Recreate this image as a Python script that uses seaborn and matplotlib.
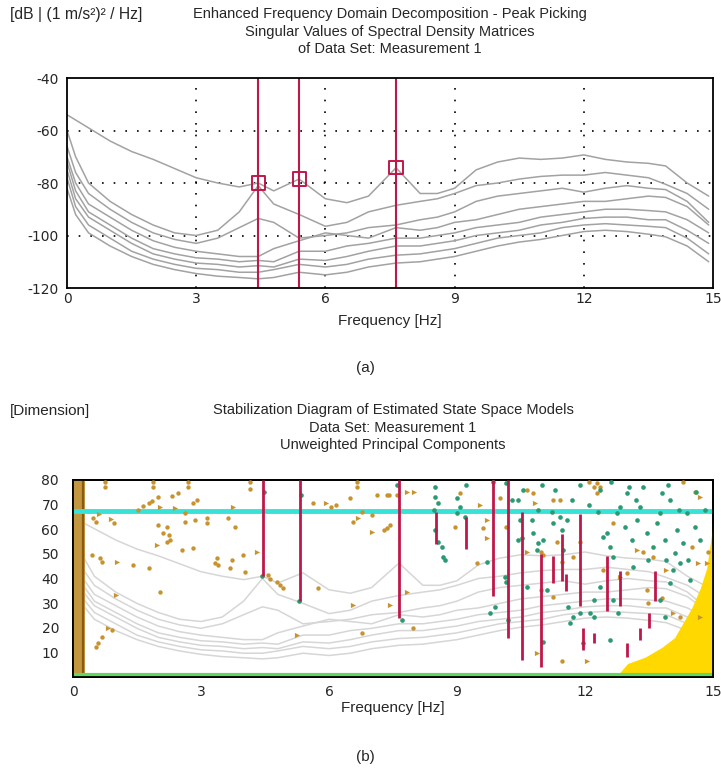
import matplotlib
matplotlib.use("Agg")
import matplotlib.pyplot as plt
import seaborn as sns
import pandas as pd

# ---------------- DATA ----------------

# singular value curves [dB]
freq = [0, 0.2, 0.5, 1, 1.5, 2, 2.5, 3, 3.5, 4, 4.44, 4.8, 5.39, 6, 6.5, 7, 7.64, 8.2,
        8.6, 9, 9.5, 10, 10.5, 11, 11.5, 12, 12.5, 13, 13.5, 13.9, 14.4, 14.9]
sv1 = [-54, -56, -59, -64, -68, -71, -74.5, -78, -80, -81.5, -80, -83, -78.5, -86, -87.5, -85,
       -74.2, -84, -84, -82, -75, -72, -70.5, -71, -70.5, -69.3, -71, -72, -72.5, -73.5, -80, -85]
sv2 = [-60, -70, -80, -87, -92, -96, -99, -100, -98, -91, -81, -88, -92, -96.5, -95, -91,
       -88.5, -87, -86, -84, -81, -80, -78.5, -77.5, -77, -77, -76, -77, -78, -80.5, -84, -90]
sv3 = [-66, -76, -84, -90, -95, -99, -101.5, -103, -101, -97, -93.5, -95, -101, -100, -99, -97,
       -96, -94, -93, -91, -87, -85, -84, -83, -82, -83.5, -82, -81, -82, -82.5, -87, -95]
sv4 = [-70, -80, -88, -93, -98, -102, -104.5, -106, -107, -108, -108, -105, -102, -99, -100, -101,
       -97, -98, -97, -95, -94, -92, -90, -89, -88, -87, -87, -86, -85, -85.5, -89, -96]
sv5 = [-72, -83, -91, -96, -101, -105, -107, -108.5, -109, -110, -109.5, -110, -106, -106, -104, -103,
       -101, -101, -100, -99, -97, -96, -95, -93, -92, -91, -90, -90, -90.5, -91, -94, -99]
sv6 = [-75, -86, -93, -98, -103, -107, -109, -110.5, -111, -112, -111.5, -112, -109, -109.5, -108, -106,
       -104, -104, -103, -102, -100, -99, -98, -96, -95, -93.5, -93, -93, -94, -94, -98, -103]
sv7 = [-78, -89, -96, -101, -106, -109, -111, -112.5, -113, -114, -114, -113, -111, -112, -111, -109,
       -107.5, -107, -106, -105, -103, -101, -100, -99, -97, -96, -95.5, -96, -96.5, -97, -101, -107]
sv8 = [-82, -92, -99, -104, -108, -111, -113, -114.5, -115.5, -116, -116.5, -116, -114, -115, -114, -112,
       -110.5, -110, -109, -108, -106, -104, -102.5, -101.5, -100, -98.5, -98, -98.5, -99.5, -100.5, -104, -110]

# picked peaks
peak_freq = [4.44, 5.39, 7.64]
peak_db = [-80, -78.5, -74.2]

# stabilization diagram: stable pole columns (red)
stab_freq = [4.45, 5.33, 7.63, 8.50, 9.20, 9.85, 10.20, 10.52, 10.98, 11.25, 11.45, 11.55,
             11.88, 11.95, 12.52, 12.82, 12.98, 13.29, 13.50, 13.65, 12.22]
stab_lo = [41, 31, 24, 54, 52, 33, 16, 7, 4, 38, 39, 35, 29, 11, 27, 29, 8, 15, 20, 31, 14]
stab_hi = [80, 80, 80, 67, 65, 80, 80, 67, 50, 49, 58, 42, 66, 20, 49, 43, 14, 20, 26, 43, 18]

# stable in frequency only (green)
green_f = [8.48, 8.48, 8.56, 8.45, 8.48, 8.56, 8.64, 8.68, 8.72, 8.99, 9.07, 8.99, 9.19, 9.7, 9.77,
           9.89, 10.12, 10.16, 10.2, 10.16, 10.28, 10.44, 10.48, 10.52, 10.44, 10.63, 10.75, 10.79,
           10.55, 10.91, 11.02, 10.87, 11.02, 11.1, 11.22, 11.26, 11.42, 11.45, 11.48, 11.57, 11.61,
           11.73, 11.88, 11.96, 12.12, 12.2, 12.31, 12.35, 12.43, 12.51, 12.59, 12.66, 12.35, 12.59,
           12.74, 12.82, 12.94, 12.98, 13.02, 13.09, 13.13, 12.66, 12.78, 13.21, 13.29, 13.37, 13.45,
           13.48, 13.6, 13.68, 13.76, 13.8, 13.88, 13.91, 13.95, 13.99, 14.07, 14.11, 14.15, 14.23,
           14.3, 14.38, 14.46, 14.42, 14.58, 14.7, 14.81, 13.76, 13.88, 12.2, 11.65, 4.42, 5.3,
           4.47, 5.35, 7.6, 7.7, 9.2, 9.85, 11.0, 11.3, 11.88, 12.6, 14.0, 14.2, 14.6, 13.2, 12.1,
           11.7, 10.9]
green_ord = [77.3, 73.2, 70.5, 67.8, 59.7, 55, 52.9, 48.9, 47.5, 72.6, 69.2, 66.5, 65.1, 46.8, 25.9,
             28.6, 40.8, 38.7, 23.2, 78.6, 71.9, 71.9, 63.8, 56.3, 55.6, 36.7, 63.8, 58.3,
             75.9, 54.3, 55.6, 51.6, 14.4, 35.3, 67.1, 62.4, 65.1, 59.7, 51.6, 63.8, 28.6,
             24.5, 25.9, 13.7, 25.9, 24.5, 67.1, 75.9, 57, 58.3, 52.9, 48.9, 36.7, 15,
             66.5, 69.2, 61, 74.6, 77.3, 55.6, 44.8, 31.3, 25.9, 63.8, 69.2, 77.3, 58.3,
             47.5, 52.9, 62.4, 66.5, 74.6, 55.6, 47.5, 78, 38, 43.5, 50.2, 59.7, 46.2,
             54.3, 66.5, 39.4, 47.5, 61, 55.6, 67.8, 31.3, 24.5, 31.3, 21.8, 41, 31,
             75, 74, 78, 23, 78, 79, 78, 76, 78, 79, 72, 68, 75, 72, 70,
             72, 68]

# unstable poles (orange dots)
orange_f = [0.48, 0.55, 0.95, 1.53, 1.63, 1.77, 1.84, 2.0, 2.31, 2.47, 2.62, 2.62, 2.82, 2.9, 2.86,
            3.13, 3.13, 2.0, 2.2, 2.12, 2.24, 2.27, 2.2, 2.55, 2.82, 3.64, 3.8, 3.37, 3.33, 3.41,
            3.68, 3.72, 3.99, 4.03, 0.44, 0.64, 0.68, 1.41, 1.77, 2.04, 0.91, 0.67, 0.59, 0.55,
            4.58, 4.62, 4.77, 4.85, 4.93, 5.75, 5.63, 6.05, 6.17, 6.5, 6.57, 6.77, 7.0, 7.12, 7.3,
            6.77, 7.4, 7.35, 7.59, 7.35, 7.43, 7.98, 9.07, 8.95, 9.46, 9.62, 10.16, 10.0, 10.63,
            10.79, 10.98, 11.02, 11.26, 11.42, 11.34, 11.45, 11.73, 11.88, 12.27, 12.35, 12.66,
            12.43, 12.98, 13.37, 13.45, 13.48, 13.6, 13.8, 14.23, 14.5, 14.89, 14.58, 10.98, 11.26,
            11.45, 12.27, 0.75, 0.75, 1.87, 1.87, 2.7, 2.7, 4.16, 4.16, 6.65, 6.65, 12.1, 12.2, 14.3]
orange_ord = [64.4, 63, 62.7, 67.8, 69.4, 70.8, 71.6, 73.2, 73.5, 74.6, 66.5, 63, 70.5, 71.9, 63.8,
              64.4, 62.7, 61.7, 61, 58.3, 57.7, 55.6, 55, 51.6, 52.3, 64.4, 61, 48.2, 46.2, 45.5,
              44.1, 47.5, 49.6, 42.8, 49.6, 48.2, 46.8, 45.5, 44.1, 34.7, 19.1, 16.4, 13.7, 12.3,
              41.4, 40, 38.7, 37.4, 36, 36, 70.5, 69.2, 69.9, 72.6, 63.1, 67.1, 65.8, 73.9, 59.7,
              17.8, 73.9, 73.9, 73.9, 60.4, 61.7, 19.8, 74.6, 61, 46.2, 60.4, 61, 72.6, 75.9,
              74.6, 50.9, 49.6, 71.9, 71.9, 55, 46.8, 48.9, 55, 78.6, 77.3, 62.4,
              43.5, 42.1, 50.9, 35.3, 29.9, 48.9, 32, 24.5, 52.9, 50.9, 75.3, 35.3, 32.6,
              6.3, 74.6, 79, 77, 79, 77, 79, 77, 79, 76.5, 79, 77, 79, 77, 79]

# unstable poles (orange chevrons)
chev_f = [2.04, 2.39, 1.96, 3.76, 4.31, 1.02, 1.0, 0.83, 5.24, 5.93, 6.69, 7.0, 6.57, 7.82, 8.0,
          7.43, 7.82, 9.54, 9.7, 9.7, 10.83, 12.82, 13.21, 13.91, 14.07, 14.66, 14.7, 14.85, 14.7,
          10.63, 10.87, 12.04, 0.6, 0.9]
chev_ord = [69.2, 68.5, 53.6, 69.2, 50.9, 46.8, 33.3, 19.8, 17.1, 70.8, 64.4, 59, 29.3, 75.3, 75.3,
            29.3, 34.7, 69.9, 63.8, 56.3, 70.5, 40.8, 51.6, 43.5, 25.9, 46.2, 24.5, 46.2, 73.2,
            50.9, 9.6, 6.3, 66, 64]

# low-frequency noise band, reference lines, yellow area
band_f = [0.0, 0.27]
cyan_ord = 67.3
green_line_ord = 1.0
yellow_f = [12.8, 13.0, 13.4, 13.8, 14.1, 14.5, 14.7, 14.85, 15.0]
yellow_top = [1.5, 5.5, 8, 12, 16, 28, 36, 44, 62]

# ---------------- STYLE ----------------

sns.set_theme(style="white")
plt.rcParams['font.family'] = ['Liberation Sans', 'DejaVu Sans']
plt.rcParams['axes.unicode_minus'] = False

RED = "#c0174a"
GREEN = "#2a9a70"
ORANGE = "#c8922e"
TICKFONT = dict(family=['DejaVu Sans'], size=10)

sv_long = pd.DataFrame({"freq": freq, "sv1": sv1, "sv2": sv2, "sv3": sv3, "sv4": sv4,
                        "sv5": sv5, "sv6": sv6, "sv7": sv7, "sv8": sv8}) \
    .melt(id_vars="freq", var_name="curve", value_name="db")

fig = plt.figure(figsize=(7.21, 7.71), dpi=100)

# ---------------- (a) EFDD ----------------

ax1 = fig.add_axes([67/721, 1-288/771, 646/721, 210/771])
sns.lineplot(data=sv_long, x="freq", y="db", units="curve", estimator=None,
             color="#a2a2a2", lw=1.1, ax=ax1)
for x in [3, 6, 9, 12]:
    ax1.axvline(x, color="black", lw=1.2, ls=(0, (1, 6)), zorder=0)
for y in [-60, -80, -100]:
    ax1.axhline(y, color="black", lw=1.2, ls=(0, (1, 6)), zorder=0)
for f in peak_freq:
    ax1.axvline(f, color=RED, lw=1.5)
sns.scatterplot(x=peak_freq, y=peak_db, marker="s", s=90, facecolor="none",
                edgecolor=RED, linewidth=1.4, ax=ax1, zorder=5)
ax1.set_xlim(0, 15)
ax1.set_ylim(-120, -40)
ax1.set_xticks([0, 3, 6, 9, 12, 15])
ax1.set_yticks([-120, -100, -80, -60, -40])
ax1.tick_params(length=0)
ax1.tick_params(axis="y", pad=6)
ax1.tick_params(axis="x", pad=3)
for lab in ax1.get_xticklabels() + ax1.get_yticklabels():
    lab.set_fontfamily(TICKFONT["family"])
    lab.set_fontsize(TICKFONT["size"])
ax1.set_xlabel("Frequency [Hz]", fontsize=11, labelpad=6)
ax1.set_ylabel("")
for sp in ax1.spines.values():
    sp.set_color("black")
    sp.set_linewidth(1.3)

fig.text(10/721, 1-15/771, "[dB | (1 m/s²)² / Hz]", fontsize=11.3, va="center", ha="left")
fig.text(390/721, 1-7/771,
         "Enhanced Frequency Domain Decomposition - Peak Picking\n"
         "Singular Values of Spectral Density Matrices\nof Data Set: Measurement 1",
         fontsize=10.5, va="top", ha="center", linespacing=1.33)
fig.text(365/721, 1-368/771, "(a)", fontsize=11, va="center", ha="center")

# ---------------- (b) STABILIZATION DIAGRAM ----------------

ax2 = fig.add_axes([73/721, 1-677/771, 640/721, 197/771])
ax2c = ax2.twinx()
ax2c.set_zorder(0)
ax2.set_zorder(1)
ax2.patch.set_visible(False)
sns.lineplot(data=sv_long, x="freq", y="db", units="curve", estimator=None,
             color="#d6d6d6", lw=1.1, ax=ax2c)
ax2c.set_ylim(-124.5, -37.5)
ax2c.set_yticks([])
ax2c.set_ylabel("")

ax2.fill_between(yellow_f, green_line_ord, yellow_top, color="#ffd800", lw=0, zorder=1)
ax2.axvspan(band_f[0], band_f[1], color="#c39640", lw=0, zorder=1)
ax2.axvline(band_f[1] - 0.03, color="#8a5a12", lw=1.6, zorder=2)
ax2.axhline(cyan_ord, color="#36e3d6", lw=3.5, zorder=2)
ax2.axhline(green_line_ord, color="#62d862", lw=3, zorder=2)

sns.scatterplot(x=orange_f, y=orange_ord, color=ORANGE, s=10, linewidth=0, ax=ax2, zorder=3)
sns.scatterplot(x=chev_f, y=chev_ord, color=ORANGE, marker=">", s=14, linewidth=0, ax=ax2, zorder=3)
sns.scatterplot(x=green_f, y=green_ord, color=GREEN, s=11, linewidth=0, ax=ax2, zorder=4)
ax2.vlines(stab_freq, stab_lo, stab_hi, color=RED, lw=2.0, zorder=5)

ax2.set_xlim(0, 15)
ax2.set_ylim(0, 80)
ax2.set_xticks([0, 3, 6, 9, 12, 15])
ax2.set_yticks([10, 20, 30, 40, 50, 60, 70, 80])
ax2.tick_params(length=0)
ax2.tick_params(axis="y", pad=10)
ax2.tick_params(axis="x", pad=6)
for lab in ax2.get_xticklabels() + ax2.get_yticklabels():
    lab.set_fontfamily(TICKFONT["family"])
    lab.set_fontsize(TICKFONT["size"])
ax2.set_xlabel("Frequency [Hz]", fontsize=11, labelpad=1)
ax2.set_ylabel("")
for a in (ax2, ax2c):
    for sp in a.spines.values():
        sp.set_color("black")
        sp.set_linewidth(1.3)

fig.text(10/721, 1-411/771, "[Dimension]", fontsize=11, va="center", ha="left")
fig.text(393/721, 1-403/771,
         "Stabilization Diagram of Estimated State Space Models\n"
         "Data Set: Measurement 1\nUnweighted Principal Components",
         fontsize=10.5, va="top", ha="center", linespacing=1.33)
fig.text(365/721, 1-757/771, "(b)", fontsize=11, va="center", ha="center")

fig.savefig("out.png", dpi=100)
